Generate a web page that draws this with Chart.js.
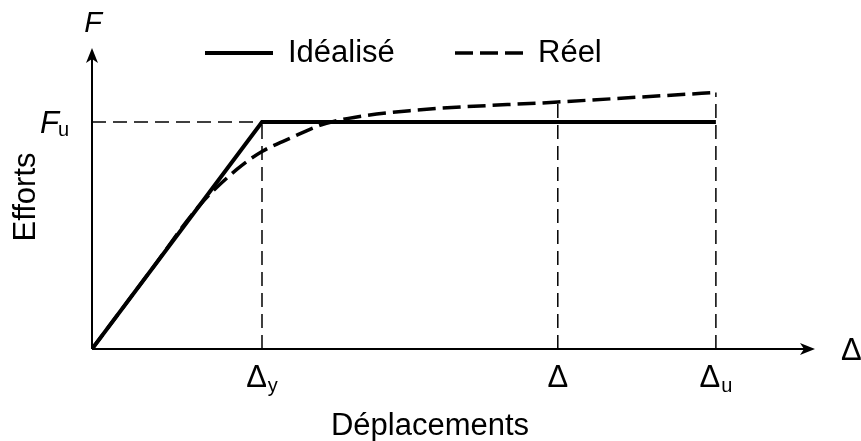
<!DOCTYPE html>
<html>
<head>
<meta charset="utf-8">
<script src="https://cdn.jsdelivr.net/npm/chart.js@4/dist/chart.umd.min.js"></script>
<style>
  body { margin: 0; background: #fff; }
  #wrap { width: 861px; height: 441px; }
</style>
</head>
<body>
<div id="wrap"><canvas id="courbe"></canvas></div>
<script>
// displacement in units of Δy, force in units of Fu
const idealX = [0, 1, 3.67];
const idealY = [0, 1, 1];
const reelX = [0, 0.35, 0.63, 0.85, 1.0, 1.17, 1.34, 1.5, 1.87, 2.74, 3.67];
const reelY = [0, 0.35, 0.63, 0.79, 0.87, 0.93, 0.985, 1.015, 1.05, 1.088, 1.13];

const tickX = [1, 2.74, 3.67];
const tickTop = [1, 1.088, 1.13];
const tickLabels = ['Δ', 'Δ', 'Δ'];
const tickSubs = ['y', '', 'u'];
const fuValue = 1;

const FONT = '"Liberation Sans", Arial, sans-serif';

function toPoints(xs, ys) {
  return xs.map((x, i) => ({ x: x, y: ys[i] }));
}

// guide lines: Fu horizontal + verticals, split with null gaps
const guides = [{ x: 0, y: fuValue }, { x: tickX[0], y: fuValue }, { x: tickX[0], y: null }];
tickX.forEach((x, i) => {
  guides.push({ x: x, y: 0 }, { x: x, y: tickTop[i] }, { x: x, y: null });
});

function arrowHead(ctx, x, y, angle) {
  ctx.save();
  ctx.translate(x, y);
  ctx.rotate(angle);
  ctx.beginPath();
  ctx.moveTo(0, 0);
  ctx.lineTo(-15, -6);
  ctx.lineTo(-11, 0);
  ctx.lineTo(-15, 6);
  ctx.closePath();
  ctx.fill();
  ctx.restore();
}

const axesPlugin = {
  id: 'axes',
  beforeDatasetsDraw(chart) {
    const { ctx, chartArea, scales } = chart;
    const x0 = scales.x.getPixelForValue(0);
    const y0 = scales.y.getPixelForValue(0);
    ctx.save();
    ctx.strokeStyle = '#000';
    ctx.fillStyle = '#000';
    ctx.lineWidth = 2;
    ctx.beginPath();
    ctx.moveTo(x0, y0);
    ctx.lineTo(chartArea.right - 8, y0);
    ctx.moveTo(x0, y0);
    ctx.lineTo(x0, chartArea.top + 8);
    ctx.stroke();
    arrowHead(ctx, chartArea.right, y0, 0);
    arrowHead(ctx, x0, chartArea.top, -Math.PI / 2);
    ctx.restore();
  },
  afterDatasetsDraw(chart) {
    const { ctx, scales } = chart;
    const x0 = scales.x.getPixelForValue(0);
    const y0 = scales.y.getPixelForValue(0);
    ctx.save();
    ctx.fillStyle = '#000';
    ctx.textBaseline = 'alphabetic';

    // tick labels on x
    tickX.forEach((v, i) => {
      const px = scales.x.getPixelForValue(v);
      ctx.font = '31px ' + FONT;
      const w1 = ctx.measureText(tickLabels[i]).width;
      ctx.font = '20px ' + FONT;
      const w2 = tickSubs[i] ? ctx.measureText(tickSubs[i]).width + 1 : 0;
      const left = px - (w1 + w2) / 2;
      ctx.textAlign = 'left';
      ctx.font = '31px ' + FONT;
      ctx.fillText(tickLabels[i], left, 387);
      if (tickSubs[i]) {
        ctx.font = '20px ' + FONT;
        ctx.fillText(tickSubs[i], left + w1 + 1, 392);
      }
    });

    // Fu label
    const fuPx = scales.y.getPixelForValue(fuValue);
    ctx.font = 'italic 31px ' + FONT;
    ctx.textAlign = 'left';
    ctx.fillText('F', 40, fuPx + 11);
    ctx.font = '20px ' + FONT;
    ctx.fillText('u', 58, fuPx + 14);

    // axis symbols
    ctx.font = 'italic 29px ' + FONT;
    ctx.textAlign = 'center';
    ctx.fillText('F', x0 + 1, 32);
    ctx.font = '31px ' + FONT;
    ctx.textAlign = 'left';
    ctx.fillText('Δ', 841, y0 + 11);

    // axis titles
    ctx.textAlign = 'center';
    ctx.fillText('Déplacements', 430, 435);
    ctx.save();
    ctx.translate(35, 197);
    ctx.rotate(-Math.PI / 2);
    ctx.fillText('Efforts', 0, 0);
    ctx.restore();

    // legend
    const items = [
      { ds: chart.data.datasets[0], x: 205 },
      { ds: chart.data.datasets[1], x: 455 },
    ];
    items.forEach((it) => {
      ctx.strokeStyle = it.ds.borderColor;
      ctx.lineWidth = it.ds.borderWidth;
      ctx.setLineDash(it.ds.borderDash || []);
      ctx.beginPath();
      ctx.moveTo(it.x, 53);
      ctx.lineTo(it.x + 68, 53);
      ctx.stroke();
      ctx.setLineDash([]);
      ctx.textAlign = 'left';
      ctx.font = '31px ' + FONT;
      ctx.fillText(it.ds.label, it.x + 83, 62);
    });
    ctx.restore();
  },
};

new Chart(document.getElementById('courbe'), {
  type: 'line',
  data: {
    datasets: [
      {
        label: 'Idéalisé',
        data: toPoints(idealX, idealY),
        borderColor: '#000',
        borderWidth: 4,
        pointRadius: 0,
        tension: 0,
        order: 1,
      },
      {
        label: 'Réel',
        data: toPoints(reelX, reelY),
        borderColor: '#000',
        borderWidth: 3.5,
        borderDash: [18, 7],
        pointRadius: 0,
        cubicInterpolationMode: 'monotone',
        order: 2,
      },
      {
        label: 'guides',
        data: guides,
        borderColor: '#000',
        borderWidth: 1.5,
        borderDash: [14, 7],
        pointRadius: 0,
        spanGaps: false,
        order: 3,
      },
    ],
  },
  options: {
    responsive: true,
    maintainAspectRatio: false,
    animation: false,
    layout: { padding: { left: 92, right: 46, top: 48, bottom: 92 } },
    scales: {
      x: { type: 'linear', min: 0, max: 4.253, display: false },
      y: { type: 'linear', min: 0, max: 1.326, display: false },
    },
    plugins: {
      legend: { display: false },
      tooltip: { enabled: false },
    },
  },
  plugins: [axesPlugin],
});
</script>
</body>
</html>
